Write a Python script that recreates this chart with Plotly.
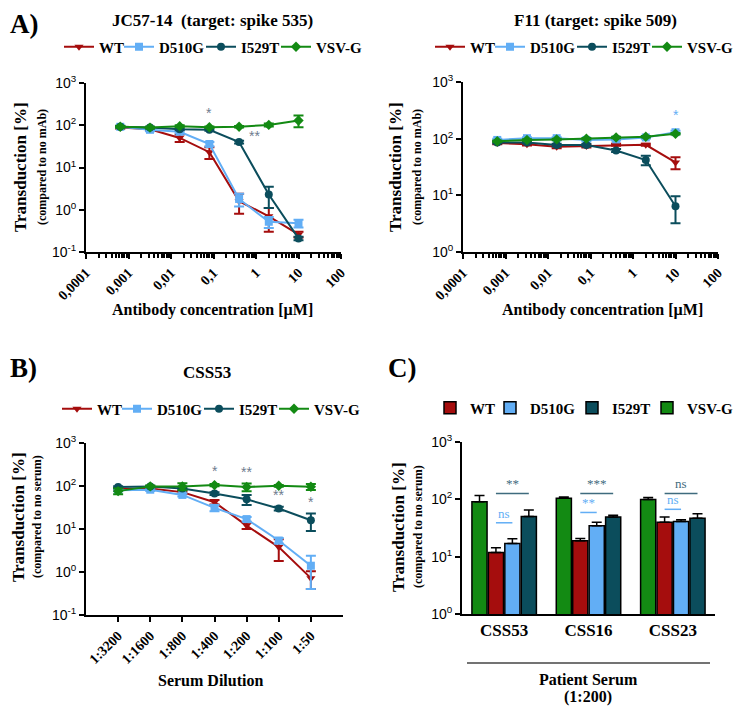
import plotly.graph_objects as go
import numpy as np

# The page body adds an 8px offset; the figure is sized to the remaining area
OFF = 8
W, H = 742 - OFF, 709 - OFF
def px(x): return (x - OFF) / W
def py(y): return 1 - (y - OFF) / H

SERIF = "Liberation Serif"
SANS = "Liberation Sans"

C_WT = "#a50d0d"
C_D = "#62aef5"
C_I = "#0b4d5c"
C_V = "#138a13"
C_STAR = "#6e7c8e"

series = ["WT", "D510G", "I529T", "VSV-G"]
colors = {"WT": C_WT, "D510G": C_D, "I529T": C_I, "VSV-G": C_V}
symbols = {"WT": "triangle-down", "D510G": "square", "I529T": "circle", "VSV-G": "diamond"}
legw = {"WT": 15, "D510G": 37, "I529T": 30, "VSV-G": 50}

# Panel A1: JC57-14
conc = [0.00064, 0.0032, 0.016, 0.08, 0.4, 2, 10]
jc_wt = [88, 80, 50, 23, 1.6, 0.7, 0.26]
jc_wt_err = [5, 6, 10, 7, 0.8, 0.4, 0.04]
jc_d510g = [92, 78, 70, 36, 1.8, 0.52, 0.48]
jc_d510g_err = [5, 6, 5, 4, 0.6, 0.15, 0.1]
jc_i529t = [92, 88, 80, 78, 40, 2.3, 0.21]
jc_i529t_err = [4, 4, 4, 4, 3, 1.2, 0.02]
jc_vsvg = [92, 88, 95, 90, 92, 102, 130]
jc_vsvg_err = [5, 4, 5, 4, 4, 8, 40]

# Panel A2: F11
f11_wt = [84, 80, 72, 74, 78, 78, 38]
f11_wt_err = [4, 4, 4, 4, 3, 3, 9]
f11_d510g = [95, 102, 102, 95, 97, 105, 130]
f11_d510g_err = [5, 4, 4, 4, 4, 5, 8]
f11_i529t = [86, 86, 77, 77, 62, 42, 6.4]
f11_i529t_err = [4, 4, 4, 4, 4, 8, 3.2]
f11_vsvg = [90, 95, 97, 100, 105, 108, 122]
f11_vsvg_err = [3, 3, 3, 3, 3, 3, 4]

# Panel B: CSS53 dilution
dilutions = ["1:3200", "1:1600", "1:800", "1:400", "1:200", "1:100", "1:50"]
b_wt = [85, 88, 72, 42, 12, 3.8, 0.72]
b_wt_err = [5, 5, 5, 5, 2, 2, 0.32]
b_d510g = [80, 82, 62, 31, 17, 5.4, 1.4]
b_d510g_err = [5, 5, 5, 5, 2, 0.8, 1.0]
b_i529t = [95, 97, 87, 67, 49, 30, 16]
b_i529t_err = [4, 4, 4, 5, 13, 3, 7]
b_vsvg = [76, 98, 98, 105, 95, 101, 96]
b_vsvg_err = [12, 5, 18, 6, 20, 5, 15]

# Panel C: patient sera 1:200
sera = ["CSS53", "CSS16", "CSS23"]
c_vsvg = [91, 104, 99]
c_vsvg_err = [26, 6, 9]
c_wt = [11.8, 18.9, 40]
c_wt_err = [2.5, 1.8, 9]
c_d510g = [17, 34.5, 41]
c_d510g_err = [3.5, 5.5, 3]
c_i529t = [50, 49, 47]
c_i529t_err = [15, 4, 9]

ytick_vals = [0.1, 1, 10, 100, 1000]
ytick_text = ["10<sup>-1</sup>", "10<sup>0</sup>", "10<sup>1</sup>", "10<sup>2</sup>", "10<sup>3</sup>"]
xA_vals = [0.0001, 0.001, 0.01, 0.1, 1, 10, 100]
xA_text = ["0,0001", "0,001", "0,01", "0,1", "1", "10", "100"]

fig = go.Figure()

def add_lines(xs, data, xa, ya, leg):
    for name, (vals, err) in zip(series, data):
        fig.add_trace(go.Scatter(
            x=xs, y=vals, mode="lines+markers", name=name,
            line=dict(color=colors[name], width=2),
            marker=dict(symbol=symbols[name], color=colors[name], size=8),
            error_y=dict(type="data", array=err, color=colors[name], thickness=2, width=5),
            xaxis=xa, yaxis=ya, legend=leg, legendwidth=legw[name], showlegend=True))

add_lines(conc, [(jc_wt, jc_wt_err), (jc_d510g, jc_d510g_err), (jc_i529t, jc_i529t_err), (jc_vsvg, jc_vsvg_err)], "x", "y", "legend")
add_lines(conc, [(f11_wt, f11_wt_err), (f11_d510g, f11_d510g_err), (f11_i529t, f11_i529t_err), (f11_vsvg, f11_vsvg_err)], "x2", "y2", "legend2")
add_lines(list(range(len(dilutions))), [(b_wt, b_wt_err), (b_d510g, b_d510g_err), (b_i529t, b_i529t_err), (b_vsvg, b_vsvg_err)], "x3", "y3", "legend3")

bar_data = [("VSV-G", c_vsvg, c_vsvg_err, 4), ("WT", c_wt, c_wt_err, 1), ("D510G", c_d510g, c_d510g_err, 2), ("I529T", c_i529t, c_i529t_err, 3)]
for name, vals, err, rank in bar_data:
    fig.add_trace(go.Bar(
        x=sera, y=vals, name=name, legendrank=rank, legendwidth=legw[name],
        marker=dict(color=colors[name], line=dict(color="black", width=1.5)),
        error_y=dict(type="data", array=err, arrayminus=[0]*len(err), color="black", thickness=1.5, width=5),
        xaxis="x4", yaxis="y4", legend="legend4"))

axis_common = dict(showline=True, linecolor="black", linewidth=2, ticks="outside", ticklen=5,
                   tickwidth=2, tickcolor="black", showgrid=False, zeroline=False, mirror=False,
                   automargin=False)
ytick_font = dict(family=SANS, size=14, color="black")

def yaxis(dom, rng, anchor):
    return dict(axis_common, type="log", range=rng, domain=dom, anchor=anchor,
                tickmode="array", tickvals=ytick_vals, ticktext=ytick_text, tickfont=ytick_font)

def xaxis_log(dom, anchor):
    return dict(axis_common, type="log", range=[-4, 2], domain=dom, anchor=anchor,
                tickmode="array", tickvals=xA_vals, ticktext=xA_text, tickangle=-45,
                tickfont=dict(family=SERIF, size=14, color="black", weight="bold"),
                minor=dict(ticks="outside", ticklen=4, tickwidth=1.5, tickcolor="black", dtick="D1", showgrid=False))

fig.update_layout(
    template="none",
    width=W, height=H, autosize=False,
    margin=dict(l=0, r=0, t=0, b=0, pad=0),
    paper_bgcolor="white", plot_bgcolor="white",
    showlegend=True,
    barmode="group", bargap=0.22, bargroupgap=0.08,
    xaxis=xaxis_log([px(86), px(341)], "y"),
    yaxis=yaxis([py(252), py(83)], [-1, 3], "x"),
    xaxis2=xaxis_log([px(463), px(718)], "y2"),
    yaxis2=yaxis([py(252), py(82)], [0, 3], "x2"),
    xaxis3=dict(axis_common, range=[-1, 7], domain=[px(86), px(343)], anchor="y3",
                tickmode="array", tickvals=list(range(len(dilutions))), ticktext=dilutions,
                tickangle=-45, tickfont=dict(family=SERIF, size=14, color="black", weight="bold")),
    yaxis3=yaxis([py(615), py(443)], [-1, 3], "x3"),
    xaxis4=dict(axis_common, ticks="", range=[-0.5, 2.5], domain=[px(462), px(715)], anchor="y4",
                tickfont=dict(family=SERIF, size=17, color="black", weight="bold")),
    yaxis4=yaxis([py(614), py(442)], [0, 3], "x4"),
)

leg_common = dict(orientation="h", yanchor="middle",
                  font=dict(family=SERIF, size=15, color="black", weight="bold"),
                  bgcolor="rgba(0,0,0,0)", itemwidth=30, traceorder="normal", borderwidth=0)
fig.update_layout(
    legend=dict(leg_common, xanchor="center", x=px(215), y=py(47)),
    legend2=dict(leg_common, xanchor="right", x=1.0, y=py(47)),
    legend3=dict(leg_common, xanchor="center", x=px(213), y=py(409)),
    legend4=dict(leg_common, xanchor="right", x=1.0, y=py(408)),
)

ann = []
def text(x, y, s, size, xanchor="center", **kw):
    ann.append(dict(x=px(x), y=py(y), xref="paper", yref="paper", text=s, showarrow=False,
                    xanchor=xanchor, yanchor="middle",
                    font=dict(family=SERIF, size=size, color=kw.pop("color", "black")), **kw))

# panel letters
text(OFF, 24, "<b>A)</b>", 27, xanchor="left")
text(OFF, 368, "<b>B)</b>", 27, xanchor="left")
text(402, 368, "<b>C)</b>", 27)
# titles
text(212, 20, "<b>JC57-14  (target: spike 535)</b>", 17)
text(595, 20, "<b>F11 (target: spike 509)</b>", 17)
text(207, 372, "<b>CSS53</b>", 17)
# x titles
text(212, 310, "<b>Antibody concentration [µM]</b>", 16)
text(602, 310, "<b>Antibody concentration [µM]</b>", 16)
text(210, 680, "<b>Serum Dilution</b>", 16)
text(588, 679, "<b>Patient Serum</b>", 16)
text(588, 697, "<b>(1:200)</b>", 16)
# y titles
for (x1, x2, yc, sub) in [(20, 42, 167, "(compared to no mAb)"), (395, 417, 167, "(compared to no mAb)"),
                          (18, 37, 517, "(compared to no serum)"), (398, 418, 527, "(compared to no serum)")]:
    text(x1, yc, "<b>Transduction [%]</b>", 17, textangle=-90)
    text(x2, yc, "<b>" + sub + "</b>", 12, textangle=-90)

# significance marks on line panels (log axes use log10 positions)
def star(xa, ya, x, yval, s, color=C_STAR):
    ann.append(dict(x=x, y=np.log10(yval), xref=xa, yref=ya, text=s, showarrow=False,
                    xanchor="center", yanchor="middle",
                    font=dict(family=SANS, size=14, color=color)))
star("x", "y", np.log10(0.08), 190, "*")
star("x", "y", np.log10(0.9), 55, "**")
star("x2", "y2", np.log10(10), 260, "*", C_D)
star("x3", "y3", 3, 220, "*")
star("x3", "y3", 4, 210, "**")
star("x3", "y3", 5, 61, "**")
star("x3", "y3", 6, 42, "*")

# panel C significance brackets
C_TEALSIG = "#3f6b7e"
shapes = []
slot = 0.78 / 4
def center(i, k):  # k: 0 VSV-G, 1 WT, 2 D510G, 3 I529T
    return i - 0.39 + slot * (k + 0.5)
sig = [(0, 3, 127, "**", C_TEALSIG), (0, 2, 39, "ns", C_D),
       (1, 3, 127, "***", C_TEALSIG), (1, 2, 59, "**", C_D),
       (2, 3, 127, "ns", C_TEALSIG), (2, 2, 67, "ns", C_D)]
for i, k, yv, s, col in sig:
    x0, x1 = center(i, 1), center(i, k)
    shapes.append(dict(type="line", xref="x4", yref="y4", x0=x0, x1=x1, y0=yv, y1=yv,
                       line=dict(color=col, width=1.5)))
    ann.append(dict(x=(x0 + x1) / 2, y=np.log10(yv), xref="x4", yref="y4", text=s, showarrow=False,
                    xanchor="center", yanchor="bottom", yshift=0, font=dict(family=SERIF, size=13, color=col)))

shapes.append(dict(type="line", xref="paper", yref="paper", x0=px(467), x1=px(710), y0=py(663), y1=py(663),
                   line=dict(color="#444444", width=1.5)))

fig.update_layout(annotations=ann, shapes=shapes)
fig.write_html("out.html")
